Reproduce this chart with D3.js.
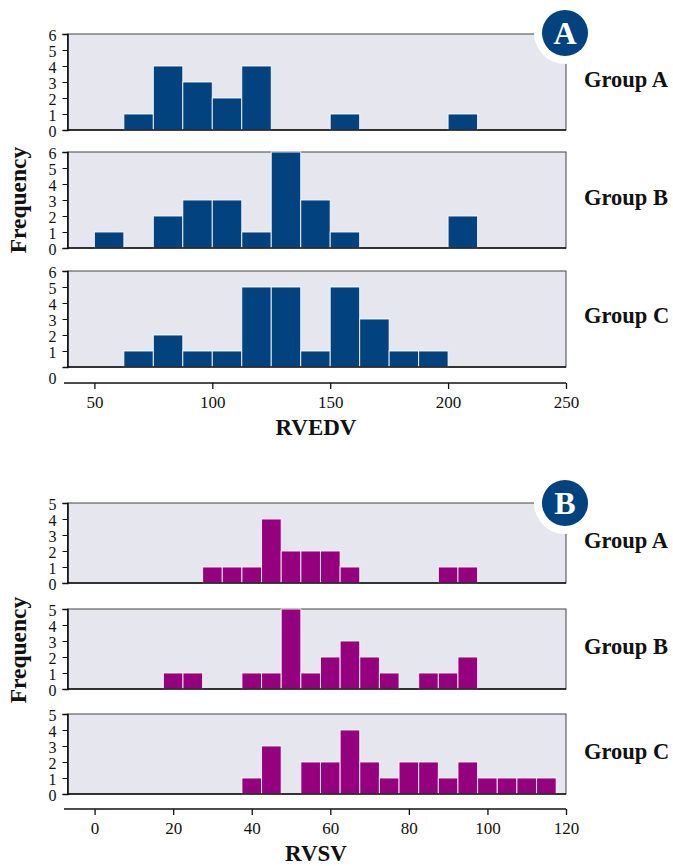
<!DOCTYPE html>
<html>
<head>
<meta charset="utf-8">
<script src="https://cdn.jsdelivr.net/npm/d3@7"></script>
<style>
  html, body { margin: 0; padding: 0; background: #fff; }
  svg { display: block; }
  text { font-family: "Liberation Serif", "DejaVu Serif", serif; fill: #111; }
</style>
</head>
<body>
<svg id="chart" width="673" height="866"></svg>
<script>
// ---------- DATA ----------
const groups = ["Group A", "Group B", "Group C"];

// RVEDV histogram: bin start values (bin width 12.5)
const rvedvBins = [50, 62.5, 75, 87.5, 100, 112.5, 125, 137.5, 150, 162.5, 175, 187.5, 200];
const rvedvA = [0, 1, 4, 3, 2, 4, 0, 0, 1, 0, 0, 0, 1];
const rvedvB = [1, 0, 2, 3, 3, 1, 6, 3, 1, 0, 0, 0, 2];
const rvedvC = [0, 1, 2, 1, 1, 5, 5, 1, 5, 3, 1, 1, 0];
const rvedvTicks = [50, 100, 150, 200, 250];
const rvedvYTicks = [0, 1, 2, 3, 4, 5, 6];

// RVSV histogram: bin start values (bin width 5)
const rvsvBins = [17.5, 22.5, 27.5, 32.5, 37.5, 42.5, 47.5, 52.5, 57.5, 62.5,
                  67.5, 72.5, 77.5, 82.5, 87.5, 92.5, 97.5, 102.5, 107.5, 112.5];
const rvsvA = [0, 0, 1, 1, 1, 4, 2, 2, 2, 1, 0, 0, 0, 0, 1, 1, 0, 0, 0, 0];
const rvsvB = [1, 1, 0, 0, 1, 1, 5, 1, 2, 3, 2, 1, 0, 1, 1, 2, 0, 0, 0, 0];
const rvsvC = [0, 0, 0, 0, 1, 3, 0, 2, 2, 4, 2, 1, 2, 2, 1, 2, 1, 1, 1, 1];
const rvsvTicks = [0, 20, 40, 60, 80, 100, 120];
const rvsvYTicks = [0, 1, 2, 3, 4, 5];

// ---------- LAYOUT ----------
const svg = d3.select("#chart");
const panelLeft = 67.5, panelRight = 566;
const panelBg = "#e5e6ee";

const charts = [
  {
    badge: "A", badgeY: 33,
    bins: rvedvBins, width: 12.5, series: [rvedvA, rvedvB, rvedvC],
    xDomain: [38.6, 250], xTicks: rvedvTicks, yTicks: rvedvYTicks, yMax: 6,
    tops: [34, 152, 271], ph: 96, axisY: 383,
    color: "#02427f", title: "RVEDV", titleY: 435, freqY: 200,
    labelY: [87, 205, 323], zeroShift: [0, 0, 10]
  },
  {
    badge: "B", badgeY: 503,
    bins: rvsvBins, width: 5, series: [rvsvA, rvsvB, rvsvC],
    xDomain: [-6.9, 120], xTicks: rvsvTicks, yTicks: rvsvYTicks, yMax: 5,
    tops: [503, 609, 714], ph: 80, axisY: 809,
    color: "#95007f", title: "RVSV", titleY: 861, freqY: 650,
    labelY: [548, 654, 759], zeroShift: [0, 0, 0]
  }
];

charts.forEach(cfg => {
  const x = d3.scaleLinear().domain(cfg.xDomain).range([panelLeft, panelRight]);

  cfg.series.forEach((counts, gi) => {
    const top = cfg.tops[gi];
    const y = d3.scaleLinear().domain([0, cfg.yMax]).range([top + cfg.ph, top]);
    const g = svg.append("g");

    // panel background and frame
    g.append("rect")
      .attr("x", panelLeft).attr("y", top)
      .attr("width", panelRight - panelLeft).attr("height", cfg.ph)
      .attr("fill", panelBg).attr("stroke", "#444").attr("stroke-width", 1);

    // bars
    const data = cfg.bins.map((b, i) => ({ x0: b, x1: b + cfg.width, n: counts[i] }))
                         .filter(d => d.n > 0);
    g.selectAll("rect.bar").data(data).join("rect")
      .attr("class", "bar")
      .attr("x", d => x(d.x0))
      .attr("width", d => x(d.x1) - x(d.x0))
      .attr("y", d => y(d.n))
      .attr("height", d => y(0) - y(d.n))
      .attr("fill", cfg.color)
      .attr("stroke", "#fff").attr("stroke-width", 1).attr("stroke-opacity", 0.85);

    // bottom baseline
    g.append("line")
      .attr("x1", panelLeft).attr("x2", panelRight)
      .attr("y1", y(0)).attr("y2", y(0))
      .attr("stroke", "#111").attr("stroke-width", 1.6);

    // y axis
    const ya = g.append("g")
      .attr("transform", `translate(${panelLeft},0)`)
      .call(d3.axisLeft(y).tickValues(cfg.yTicks).tickFormat(d3.format("d"))
              .tickSize(5).tickPadding(6));
    ya.select(".domain").attr("stroke", "#111").attr("stroke-width", 1.6);
    ya.selectAll(".tick line").attr("stroke", "#111");
    ya.selectAll(".tick text")
      .attr("font-family", "Liberation Serif, serif")
      .attr("font-size", 16).attr("fill", "#111")
      .attr("dy", "0.42em");
    if (cfg.zeroShift[gi]) {
      ya.selectAll(".tick").filter(d => d === 0).select("text")
        .attr("y", cfg.zeroShift[gi]);
      ya.selectAll(".tick").filter(d => d === 0).select("line").remove();
    }

    // group label
    svg.append("text")
      .attr("x", 584).attr("y", cfg.labelY[gi])
      .attr("font-size", 22.5).attr("font-weight", "bold")
      .text(groups[gi]);
  });

  // x axis
  const xa = svg.append("g")
    .attr("transform", `translate(0,${cfg.axisY})`)
    .call(d3.axisBottom(x).tickValues(cfg.xTicks).tickSize(6).tickSizeOuter(0).tickPadding(6.5));
  xa.select(".domain").remove();
  xa.append("line").attr("x1", 64).attr("x2", panelRight)
    .attr("stroke", "#111").attr("stroke-width", 1.6);
  xa.selectAll(".tick line").attr("stroke", "#111").attr("stroke-width", 1.3);
  xa.selectAll(".tick text")
    .attr("font-family", "Liberation Serif, serif")
    .attr("font-size", 17).attr("fill", "#111");

  // x title
  svg.append("text")
    .attr("x", 316).attr("y", cfg.titleY)
    .attr("text-anchor", "middle")
    .attr("font-size", 23).attr("font-weight", "bold")
    .text(cfg.title);

  // y title
  svg.append("text")
    .attr("transform", `translate(26,${cfg.freqY}) rotate(-90)`)
    .attr("text-anchor", "middle")
    .attr("font-size", 23.5).attr("font-weight", "bold")
    .text("Frequency");

  // badge
  const bx = 565;
  svg.append("circle").attr("cx", bx).attr("cy", cfg.badgeY).attr("r", 31).attr("fill", "#fff");
  svg.append("circle").attr("cx", bx).attr("cy", cfg.badgeY).attr("r", 23).attr("fill", "#02427f");
  svg.append("text")
    .attr("x", bx).attr("y", cfg.badgeY + 11)
    .attr("text-anchor", "middle")
    .attr("font-size", 32).attr("font-weight", "bold")
    .style("fill", "#fff")
    .text(cfg.badge);
});
</script>
</body>
</html>
